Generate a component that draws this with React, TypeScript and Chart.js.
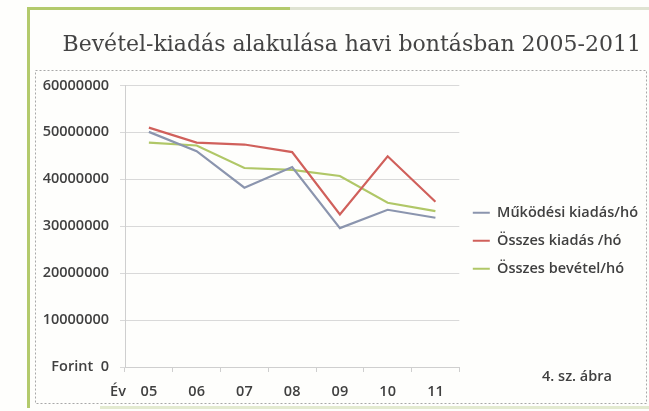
import React, { useEffect, useRef } from "react";
import { Chart, registerables } from "chart.js";

Chart.register(...registerables);

const titleText = "Bevétel-kiadás alakulása havi bontásban 2005-2011";
const categories = ["05", "06", "07", "08", "09", "10", "11"];
const seriesNames = ["Működési kiadás/hó", "Összes kiadás /hó", "Összes bevétel/hó"];
const mukodesiKiadas = [50100000, 46000000, 38200000, 42600000, 29600000, 33500000, 31800000];
const osszesKiadas = [51000000, 47800000, 47400000, 45800000, 32500000, 44900000, 35200000];
const osszesBevetel = [47800000, 47200000, 42400000, 42000000, 40700000, 35000000, 33200000];
const yMin = 0;
const yMax = 60000000;
const yStep = 10000000;
const zeroTickLabel = "Forint  0";
const xAxisNote = "Év";
const figureNote = "4. sz. ábra";

const seriesColors = ["#8b95ae", "#d0605b", "#b0c767"];
const textColor = "#404040";
const tickFont = { family: "'Open Sans'", size: 14.5, weight: 600 as const };

const framePlugin = {
  id: "frame",
  beforeDraw(chart: any) {
    const ctx = chart.ctx as CanvasRenderingContext2D;
    ctx.save();
    ctx.fillStyle = "#fefefc";
    ctx.fillRect(0, 0, chart.width, chart.height);
    ctx.lineWidth = 3;
    ctx.strokeStyle = "#b3ca6c";
    ctx.beginPath();
    ctx.moveTo(28.5, 8);
    ctx.lineTo(28.5, 408);
    ctx.stroke();
    ctx.beginPath();
    ctx.moveTo(27, 8.5);
    ctx.lineTo(290, 8.5);
    ctx.stroke();
    ctx.strokeStyle = "#dfe3d2";
    ctx.beginPath();
    ctx.moveTo(290, 8.5);
    ctx.lineTo(649, 8.5);
    ctx.stroke();
    ctx.strokeStyle = "#e3ead0";
    ctx.beginPath();
    ctx.moveTo(100, 407.5);
    ctx.lineTo(649, 407.5);
    ctx.stroke();
    ctx.lineWidth = 1;
    ctx.strokeStyle = "#a8a8a8";
    ctx.setLineDash([2, 2]);
    ctx.strokeRect(35.5, 70.5, 611, 333);
    ctx.restore();
  },
  afterDraw(chart: any) {
    const ctx = chart.ctx as CanvasRenderingContext2D;
    ctx.save();
    ctx.fillStyle = textColor;
    ctx.font = `600 14.5px 'Open Sans'`;
    ctx.textAlign = "center";
    ctx.textBaseline = "middle";
    ctx.fillText(xAxisNote, 118, 392);
    ctx.fillText(figureNote, 577, 377);
    ctx.restore();
  },
};

export default function App() {
  const canvasRef = useRef<HTMLCanvasElement | null>(null);

  useEffect(() => {
    if (!canvasRef.current) return;
    const data = [mukodesiKiadas, osszesKiadas, osszesBevetel];
    const chart = new Chart(canvasRef.current, {
      type: "line",
      data: {
        labels: categories,
        datasets: seriesNames.map((name, i) => ({
          label: name,
          data: data[i],
          borderColor: seriesColors[i],
          backgroundColor: seriesColors[i],
          borderWidth: 2.2,
          pointRadius: 0,
          tension: 0,
        })),
      },
      options: {
        animation: false,
        responsive: false,
        events: [],
        layout: { padding: { left: 0, right: 1, top: 0, bottom: 0 } },
        plugins: {
          title: {
            display: true,
            align: "end",
            text: titleText + "\u00a0",
            color: "#444444",
            font: { family: "'DejaVu Serif'", size: 22, weight: 400 as const },
            padding: { top: 32, bottom: 27 },
          },
          legend: {
            position: "right",
            align: "start",
            maxWidth: 240,
            title: {
              display: true,
              text: " ",
              padding: 0,
              font: { size: 14.5, lineHeight: "192px" },
            },
            labels: {
              boxWidth: 17,
              boxHeight: 2,
              padding: 13.5,
              color: textColor,
              font: tickFont,
              generateLabels(chart: any) {
                const items = Chart.defaults.plugins.legend.labels.generateLabels(chart);
                return items.map((it: any, i: number) => ({
                  ...it,
                  lineWidth: 0,
                  fillStyle: seriesColors[i],
                  strokeStyle: seriesColors[i],
                }));
              },
            },
          },
          tooltip: { enabled: false },
        },
        scales: {
          x: {
            offset: true,
            grid: {
              drawOnChartArea: false,
              drawTicks: true,
              tickLength: 5,
              color: "#cfcfcf",
              offset: true,
            },
            border: { color: "#cfcfcf" },
            ticks: { padding: 11, color: textColor, font: tickFont },
            afterFit(scale: any) {
              scale.height = 44;
            },
          },
          y: {
            min: yMin,
            max: yMax,
            grid: { color: "#d9d9d9", tickLength: 5 },
            border: { color: "#cfcfcf" },
            ticks: {
              stepSize: yStep,
              padding: 11,
              color: textColor,
              font: tickFont,
              callback: (v: any) => (Number(v) === 0 ? zeroTickLabel : String(v)),
            },
            afterFit(scale: any) {
              scale.width = 125;
            },
          },
        },
      },
      plugins: [framePlugin],
    });
    return () => chart.destroy();
  }, []);

  return (
    <div style={{ position: "absolute", left: 0, top: 0, width: 649, height: 411 }}>
      <canvas ref={canvasRef} width={649} height={411} style={{ width: 649, height: 411, display: "block" }} />
    </div>
  );
}
